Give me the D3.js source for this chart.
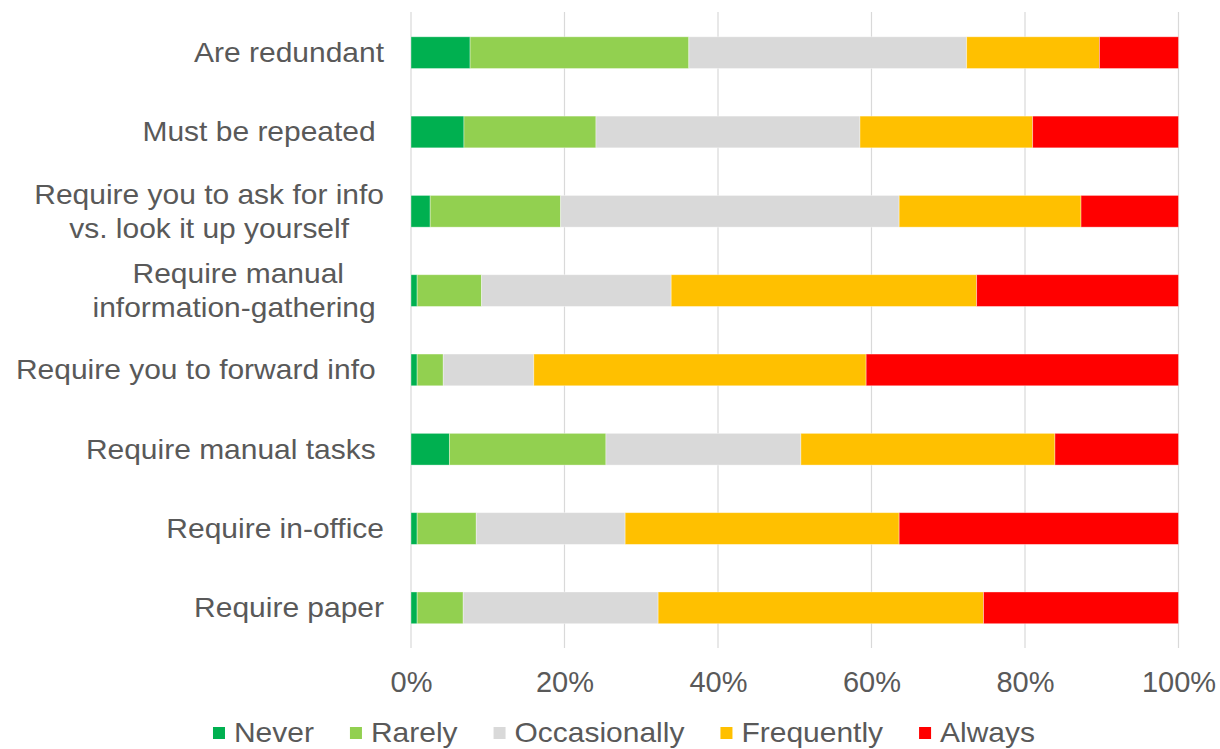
<!DOCTYPE html>
<html>
<head>
<meta charset="utf-8">
<script src="https://cdn.jsdelivr.net/npm/d3@7"></script>
<style>
  html, body { margin: 0; padding: 0; background: #fff; }
  svg { display: block; }
  text { font-family: "Liberation Sans", Arial, sans-serif; fill: #595959; white-space: pre; }
</style>
</head>
<body>
<svg id="chart" width="1220" height="749"></svg>
<script>
// Survey items (each entry is the list of lines of its label)
const categories = [
  ["Are redundant"],
  ["Must be repeated "],
  ["Require you to ask for info", "vs. look it up yourself"],
  ["Require manual", "information-gathering "],
  ["Require you to forward info "],
  ["Require manual tasks "],
  ["Require in-office"],
  ["Require paper"]
];

// Answer scale, in stacking order
const responses = ["Never", "Rarely", "Occasionally", "Frequently", "Always"];
const colors = ["#00B050", "#92D050", "#D9D9D9", "#FFC000", "#FF0000"];

// Share of answers (%) per item, one array per response
const never        = [7.7,  6.9,  2.5,  0.8,  0.8,  5.0,  0.8,  0.8];
const rarely       = [28.5, 17.2, 17.0, 8.4,  3.4,  20.4, 7.7,  6.0];
const occasionally = [36.2, 34.4, 44.1, 24.7, 11.8, 25.4, 19.4, 25.4];
const frequently   = [17.3, 22.5, 23.7, 39.8, 43.3, 33.1, 35.7, 42.4];
const always       = [10.3, 19.0, 12.7, 26.3, 40.7, 16.1, 36.4, 25.4];

const tickValues = [0, 0.2, 0.4, 0.6, 0.8, 1.0];

const seriesValues = [never, rarely, occasionally, frequently, always];
const rows = categories.map((c, i) => {
  const r = { key: i };
  responses.forEach((name, j) => { r[name] = seriesValues[j][i]; });
  return r;
});

const svg = d3.select("#chart");

const x = d3.scaleLinear().domain([0, 1]).range([411, 1178.5]);
const y = d3.scaleBand()
  .domain(categories.map((c, i) => i))
  .range([13, 647.5])
  .paddingInner(0.6)
  .paddingOuter(0.3);

const color = d3.scaleOrdinal().domain(responses).range(colors);

// Vertical gridlines
svg.append("g")
  .selectAll("line")
  .data(tickValues)
  .join("line")
  .attr("x1", d => x(d)).attr("x2", d => x(d))
  .attr("y1", 12).attr("y2", 648)
  .attr("stroke", "#D9D9D9")
  .attr("stroke-width", 1.2);

// 100% stacked bars
const stacked = d3.stack().keys(responses).offset(d3.stackOffsetExpand)(rows);

svg.append("g")
  .selectAll("g")
  .data(stacked)
  .join("g")
  .attr("fill", d => color(d.key))
  .selectAll("rect")
  .data(d => d)
  .join("rect")
  .attr("x", d => x(d[0]))
  .attr("width", d => x(d[1]) - x(d[0]))
  .attr("y", d => y(d.data.key))
  .attr("height", y.bandwidth())
  .attr("stroke", "#fff")
  .attr("stroke-opacity", 0.45)
  .attr("stroke-width", 0.8);

// X axis tick labels
const xAxis = d3.axisBottom(x)
  .tickValues(tickValues)
  .tickFormat(d3.format(".0%"))
  .tickSize(0)
  .tickPadding(0);

const axisG = svg.append("g")
  .attr("transform", "translate(0,670)")
  .call(xAxis);
axisG.select(".domain").remove();
axisG.selectAll("text")
  .attr("dy", null)
  .attr("y", 22)
  .style("font-size", "29px")
  .style("font-family", "'Liberation Sans', Arial, sans-serif")
  .attr("fill", "#595959");

// Category labels: right-aligned block, lines centred on each other
const labelSize = 27, stretch = 1.11, lineGap = 34, labelRight = 384;
const labelG = svg.append("g");
categories.forEach((lines, i) => {
  const cy = y(i) + y.bandwidth() / 2;
  const g = labelG.append("g");
  const texts = lines.map((line, k) => {
    const base = cy + labelSize * 0.35 + (k - (lines.length - 1) / 2) * lineGap;
    return g.append("text")
      .attr("y", base)
      .style("font-size", labelSize + "px")
      .text(line);
  });
  const widths = texts.map(t => t.node().getComputedTextLength());
  const maxW = d3.max(widths);
  texts.forEach((t, k) => t.attr("x", -(maxW - widths[k]) / 2).attr("text-anchor", "end"));
  g.attr("transform", `translate(${labelRight},0) scale(${stretch},1)`);
});

// Legend, centred below the axis
const legendSize = 27, marker = 12, markerGap = 9, itemGap = 36, legendY = 733;
const legend = svg.append("g");
const items = responses.map(name => {
  const it = legend.append("g");
  it.append("rect")
    .attr("width", marker).attr("height", marker)
    .attr("y", -marker / 2)
    .attr("fill", color(name));
  const t = it.append("text")
    .attr("y", legendSize * 0.35)
    .style("font-size", legendSize + "px")
    .text(name);
  const w = marker + markerGap + t.node().getComputedTextLength() * stretch;
  t.attr("transform", `scale(${stretch},1)`).attr("x", (marker + markerGap) / stretch);
  return { it, w };
});
const totalW = d3.sum(items, d => d.w) + itemGap * (items.length - 1);
let cx = 624 - totalW / 2;
items.forEach(({ it, w }) => {
  it.attr("transform", `translate(${cx},${legendY})`);
  cx += w + itemGap;
});
</script>
</body>
</html>
